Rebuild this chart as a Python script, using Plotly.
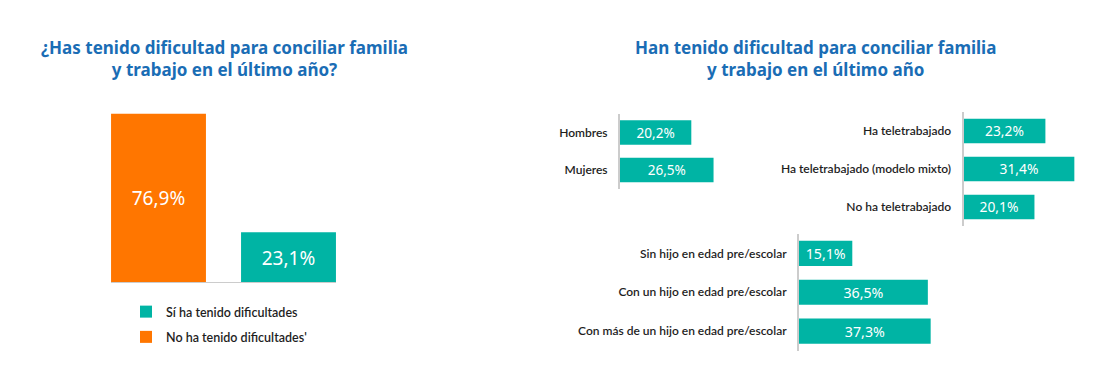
import plotly.graph_objects as go

W, H = 1101, 368

# ---- data ----
left_cats = ["No ha tenido dificultades'", "Sí ha tenido dificultades"]
left_vals = [76.9, 23.1]
left_legend_rank = [2, 1]

gender_cats = ["Hombres", "Mujeres"]
gender_vals = [20.2, 26.5]

tele_cats = ["Ha teletrabajado", "Ha teletrabajado (modelo mixto)", "No ha teletrabajado"]
tele_vals = [23.2, 31.4, 20.1]

kids_cats = ["Sin hijo en edad pre/escolar", "Con un hijo en edad pre/escolar",
             "Con más de un hijo en edad pre/escolar"]
kids_vals = [15.1, 36.5, 37.3]

title_left = "¿Has tenido dificultad para conciliar familia<br>y trabajo en el último año?"
title_right = "Han tenido dificultad para conciliar familia<br>y trabajo en el último año"

TEAL = "#00b4a4"
ORANGE = "#ff7600"
BLUE = "#1a6db5"
DARK = "#1e1e1e"
GREY = "#cccccc"
FONT = "Noto Sans"
LFONT = "Lato"

fig = go.Figure()

# ---- left chart ----
left_colors = [ORANGE, TEAL]
for i, (cat, val, col, rk) in enumerate(zip(left_cats, left_vals, left_colors, left_legend_rank)):
    fig.add_trace(go.Bar(
        x=[cat], y=[val], name=cat, marker=dict(color=col, line=dict(width=0)),
        texttemplate="%{y:.1f}%", textposition="inside", insidetextanchor="middle",
        insidetextfont=dict(color="white", size=19, family=FONT),
        xaxis="x", yaxis="y", width=0.73, showlegend=True, hoverinfo="skip",
        legendgroup="g%d" % i, legendrank=rk,
    ))

def hbar(cats, vals, xa, ya):
    fig.add_trace(go.Bar(
        y=cats, x=vals, orientation="h", marker=dict(color=TEAL, line=dict(width=0)),
        texttemplate="%{x:.1f}%", textposition="inside", insidetextanchor="middle",
        insidetextfont=dict(color="white", size=17, family=FONT),
        xaxis=xa, yaxis=ya, width=0.65, showlegend=False, hoverinfo="skip",
    ))

hbar(gender_cats, gender_vals, "x2", "y2")
hbar(tele_cats, tele_vals, "x3", "y3")
hbar(kids_cats, kids_vals, "x4", "y4")

def px_x(a, b):
    return [a / W, b / W]

def px_y(top, bottom):
    return [(H - bottom) / H, (H - top) / H]

hidden_x = dict(showgrid=False, zeroline=False, showticklabels=False, showline=False, ticks="")

cat_y = dict(type="category", autorange="reversed", showgrid=False, zeroline=False,
             showline=True, linecolor=GREY, linewidth=2, ticks="",
             ticklabelstandoff=8, tickfont=dict(size=12, color=DARK, family=LFONT, weight=600))

fig.update_layout(
    width=W, height=H,
    margin=dict(l=0, r=0, t=0, b=0),
    paper_bgcolor="white", plot_bgcolor="white",
    barmode="overlay",
    separators=",.",
    font=dict(family=FONT, color=DARK),
    xaxis=dict(domain=px_x(93.5, 353.5), type="category", range=[-0.5, 1.5],
               showgrid=False, zeroline=False, showticklabels=False, showline=False, ticks=""),
    yaxis=dict(domain=px_y(107, 283), range=[0, 80], showgrid=False, zeroline=False,
               showticklabels=False, showline=False, ticks=""),
    xaxis2=dict(domain=px_x(620, 620 + 40 * 3.53), range=[0, 40], anchor="y2", **hidden_x),
    yaxis2=dict(domain=px_y(113.75, 188.75), anchor="x2", **cat_y),
    xaxis3=dict(domain=px_x(963.5, 963.5 + 36 * 3.53), range=[0, 36], anchor="y3", **hidden_x),
    yaxis3=dict(domain=px_y(112, 226), anchor="x3", **cat_y),
    xaxis4=dict(domain=px_x(799, 799 + 40 * 3.53), range=[0, 40], anchor="y4", **hidden_x),
    yaxis4=dict(domain=px_y(234, 350.5), anchor="x4", **cat_y),
    legend=dict(x=126 / W, y=(H - 297) / H, xanchor="left", yanchor="top",
                traceorder="grouped", font=dict(size=12.5, color=DARK, family=LFONT, weight=600),
                bgcolor="rgba(0,0,0,0)", itemclick=False, tracegroupgap=6),
    annotations=[
        dict(text="<b>" + title_left + "</b>", x=224 / W, y=(H - 58.5) / H, xref="paper", yref="paper",
             xanchor="center", yanchor="middle", showarrow=False,
             font=dict(size=17, color=BLUE, family=FONT)),
        dict(text="<b>" + title_right + "</b>", x=815 / W, y=(H - 58.5) / H, xref="paper", yref="paper",
             xanchor="center", yanchor="middle", showarrow=False,
             font=dict(size=17, color=BLUE, family=FONT)),
    ],
    shapes=[
        dict(type="line", xref="x", yref="y", x0=-0.5 + (1 - 0.73) / 2, x1=1.5 - (1 - 0.73) / 2,
             y0=0, y1=0, line=dict(color=GREY, width=2), layer="above"),
    ],
)

fig.write_html("out.html", config={"displayModeBar": False},
               post_script="document.body.style.margin='0';document.body.style.padding='0';")
